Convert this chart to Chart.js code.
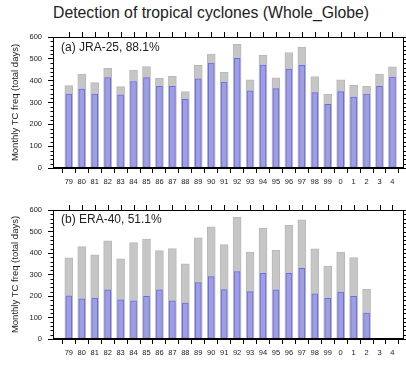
<!DOCTYPE html>
<html>
<head>
<meta charset="utf-8">
<script src="https://cdn.jsdelivr.net/npm/chart.js@4"></script>
<style>
  body { margin: 0; background: #fff; }
  #wrap { position: relative; width: 406px; height: 365px; overflow: hidden; }
  #title { position: absolute; left: 53px; top: 4px; font: 15.8px "Liberation Sans", Arial, sans-serif; color: #222; white-space: nowrap; }
  .panel { position: absolute; left: 0; width: 406px; }
  .tag { position: absolute; left: 61px; font: 12px "Liberation Sans", Arial, sans-serif; color: #222; white-space: nowrap; }
</style>
</head>
<body>
<div id="wrap">
  <div id="title">Detection of tropical cyclones (Whole_Globe)</div>
  <div class="panel" style="top:0;height:192px"><canvas id="chartA"></canvas></div>
  <div class="panel" style="top:192px;height:173px"><canvas id="chartB"></canvas></div>
  <div class="tag" style="top:40px">(a) JRA-25, 88.1%</div>
  <div class="tag" style="top:212px">(b) ERA-40, 51.1%</div>
</div>
<script>
// years 1979-2004
var years = ['79','80','81','82','83','84','85','86','87','88','89','90','91','92','93','94','95','96','97','98','99','0','1','2','3','4'];

// observed TC days (gray)
var observed = [377, 430, 391, 457, 373, 448, 465, 411, 420, 350, 470, 522, 439, 566, 404, 516, 413, 529, 554, 419, 339, 404, 379, 374, 430, 463];
// observed, ERA-40 period only (ends 2002)
var observedEra = [377, 430, 391, 457, 373, 448, 465, 411, 420, 350, 470, 522, 439, 566, 404, 516, 413, 529, 554, 419, 339, 404, 379, 232, null, null];

// detected TC days
var jra25 = [338, 362, 339, 414, 335, 396, 414, 374, 374, 315, 408, 480, 393, 502, 353, 471, 364, 453, 470, 345, 292, 350, 325, 339, 374, 417];
var era40 = [201, 187, 190, 229, 182, 178, 198, 229, 178, 167, 263, 290, 230, 314, 220, 305, 229, 305, 329, 210, 189, 218, 199, 121, null, null];

var font = 'Liberation Sans, Arial, sans-serif';

function pts(arr) {
  return arr.map(function (v, i) { return { x: i, y: v }; });
}

// box + extra tick marks (top axis, minor y ticks)
var frame = {
  id: 'frame',
  afterDraw: function (chart) {
    var c = chart.ctx, a = chart.chartArea;
    var xs = chart.scales.x, ys = chart.scales.y;
    c.save();
    c.strokeStyle = '#000';
    c.lineWidth = 1;
    c.strokeRect(a.left + 0.5, a.top + 0.5, a.right - a.left - 1, a.bottom - a.top - 1);
    c.beginPath();
    for (var i = 0; i < years.length; i++) {
      var px = Math.round(xs.getPixelForValue(i)) + 0.5;
      c.moveTo(px, a.top);
      c.lineTo(px, a.top - 5);
    }
    for (var v = 0; v <= 600; v += 20) {
      var py = Math.round(ys.getPixelForValue(v)) + 0.5;
      if (v % 100 != 0) {
        c.moveTo(a.left, py);
        c.lineTo(a.left - 2.5, py);
      }
      c.moveTo(a.right, py);
      c.lineTo(a.right + 2, py);
    }
    c.stroke();
    c.restore();
  }
};

function makeChart(id, gray, blue, padTop, xHeight) {
  var ctx = document.getElementById(id).getContext('2d');
  return new Chart(ctx, {
    type: 'bar',
    data: {
      datasets: [
        {
          label: 'detected',
          data: pts(blue),
          backgroundColor: '#9e9ee2',
          borderColor: '#6b6be6',
          borderWidth: 1,
          borderSkipped: false,
          barThickness: 6,
          order: 1
        },
        {
          label: 'observed',
          data: pts(gray),
          backgroundColor: '#c6c6c6',
          borderColor: '#b8b8b8',
          borderWidth: 1,
          borderSkipped: 'bottom',
          barThickness: 8,
          order: 2
        }
      ]
    },
    options: {
      responsive: true,
      maintainAspectRatio: false,
      animation: false,
      layout: { padding: { top: padTop, right: 2, left: 0, bottom: 0 } },
      plugins: { legend: { display: false }, tooltip: { enabled: false } },
      datasets: { bar: { grouped: false } },
      scales: {
        x: {
          type: 'linear',
          min: -0.7,
          max: 25.37,
          grid: { drawOnChartArea: false, tickLength: 5, color: '#000' },
          border: { color: '#000' },
          ticks: {
            stepSize: 1,
            includeBounds: false,
            autoSkip: false,
            maxRotation: 0,
            padding: 4,
            color: '#222',
            font: { family: font, size: 7.5 },
            callback: function (v) { return years[v]; }
          },
          afterBuildTicks: function (s) {
            s.ticks = s.ticks.filter(function (t) { return Number.isInteger(t.value); });
          },
          afterFit: function (s) { s.height = xHeight; }
        },
        y: {
          min: 0,
          max: 600,
          grid: { drawOnChartArea: false, tickLength: 5, color: '#000' },
          border: { color: '#000' },
          ticks: { stepSize: 100, padding: 6, color: '#222', font: { family: font, size: 7.5 } },
          title: {
            display: true,
            text: 'Monthly TC freq (total days)',
            color: '#222',
            font: { family: font, size: 9.5 },
            padding: { top: 10, bottom: 0 }
          },
          afterFit: function (s) { s.width = 53; }
        }
      }
    },
    plugins: [frame]
  });
}

var chartA = makeChart('chartA', observed, jra25, 37, 24);
var chartB = makeChart('chartB', observedEra, era40, 18, 26);
</script>
</body>
</html>
